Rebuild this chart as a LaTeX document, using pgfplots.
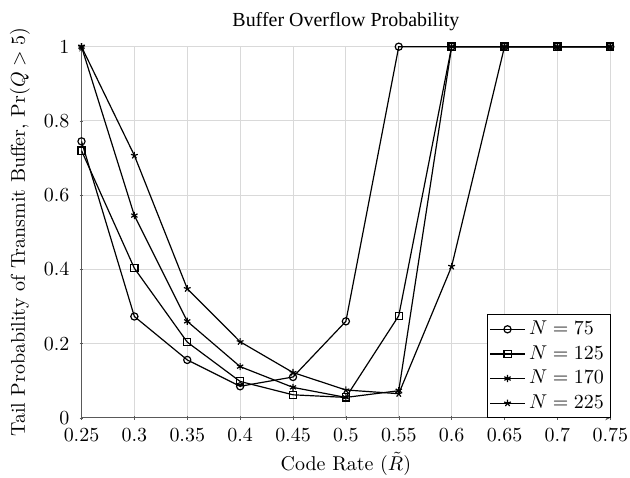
\documentclass[border=0pt]{standalone}
\usepackage{fontspec}
\newfontfamily\timesfont{Liberation Serif}
\usepackage{pgfplots}
\usetikzlibrary{arrows.meta}
\pgfplotsset{compat=1.18}
\begin{document}
\begin{tikzpicture}
\begin{axis}[
  scale only axis,
  width=265pt, height=186pt,
  xmin=0.25, xmax=0.75, ymin=0, ymax=1,
  axis x line=bottom, axis y line=left,
  axis line style={gray!70!black, -{Stealth[length=2.5pt,width=2.5pt]}},
  xtick={0.25,0.3,...,0.75},
  ytick={0,0.2,...,1},
  xticklabels={0.25,0.3,0.35,0.4,0.45,0.5,0.55,0.6,0.65,0.7,0.75},
  yticklabels={0,0.2,0.4,0.6,0.8,1},
  major tick length=2pt,
  tick style={gray!70!black},
  xticklabel style={yshift=-0.7pt, inner xsep=1pt},
  yticklabel style={xshift=-1.5pt},
  grid=major,
  major grid style={gray!30, line width=0.5pt},
  title={\timesfont Buffer Overflow Probability},
  title style={inner ysep=6pt, yshift=-4pt},
  xlabel={Code Rate ($\tilde{R}$)},
  ylabel={Tail Probability of Transmit Buffer, $\Pr(Q > 5)$},
  xlabel style={yshift=-0.6pt, inner ysep=1pt},
  ylabel style={inner ysep=5pt, yshift=-1.5pt},
  legend pos=south east,
  legend cell align=left,
  legend style={draw=black, inner sep=1.2pt, outer sep=0pt, at={(1,0)}, anchor=south east},
  every axis plot/.append style={black, semithick, mark size=1.8pt, mark options={solid, fill=white}},
]
\addplot[mark=o] coordinates {(0.25,0.745)(0.3,0.273)(0.35,0.156)(0.4,0.085)(0.45,0.110)(0.5,0.260)(0.55,1)(0.6,1)(0.65,1)(0.7,1)(0.75,1)};
\addlegendentry{$N = 75$}
\addplot[mark=square] coordinates {(0.25,0.720)(0.3,0.403)(0.35,0.204)(0.4,0.098)(0.45,0.062)(0.5,0.055)(0.55,0.275)(0.6,1)(0.65,1)(0.7,1)(0.75,1)};
\addlegendentry{$N = 125$}
\addplot[mark=asterisk] coordinates {(0.25,1)(0.3,0.545)(0.35,0.260)(0.4,0.138)(0.45,0.082)(0.5,0.055)(0.55,0.073)(0.6,1)(0.65,1)(0.7,1)(0.75,1)};
\addlegendentry{$N = 170$}
\addplot[mark=star] coordinates {(0.25,1)(0.3,0.707)(0.35,0.348)(0.4,0.205)(0.45,0.122)(0.5,0.075)(0.55,0.065)(0.6,0.408)(0.65,1)(0.7,1)(0.75,1)};
\addlegendentry{$N = 225$}
\end{axis}
\end{tikzpicture}
\end{document}
